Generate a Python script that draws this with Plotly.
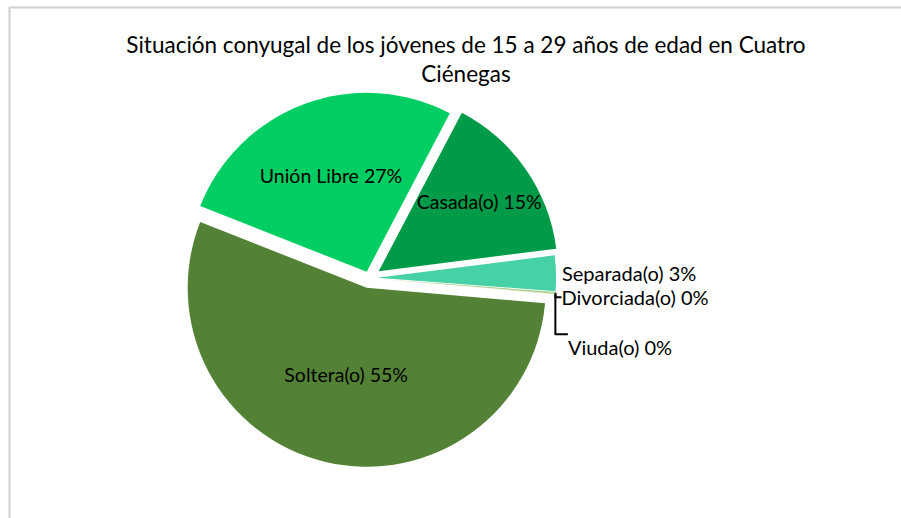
import plotly.graph_objects as go

categorias = ["Soltera(o)", "Unión Libre", "Casada(o)", "Separada(o)", "Divorciada(o)", "Viuda(o)"]
porcentajes = [54.6, 26.7, 15.3, 3.2, 0.15, 0.05]
colores = ["#538135", "#00CE63", "#009B48", "#47D1A6", "#A9D18E", "#C5E0B4"]
separacion = [0.056, 0.037, 0.066, 0.045, 0.045, 0.045]
posicion_texto = ["inside", "inside", "inside", "outside", "outside", "outside"]
plantilla = ["%{label} %{percent:.0%}"] * 5 + ["\u00a0<br>%{label} %{percent:.0%}"]

titulo = "Situación conyugal de los jóvenes de 15 a 29 años de edad en Cuatro<br>Ciénegas"

W, H = 901, 518
cx, cy, R = 369, 278, 179
half = R * (1 + max(separacion))

fig = go.Figure(go.Pie(
    labels=categorias,
    values=porcentajes,
    sort=False,
    direction="clockwise",
    rotation=95,
    pull=separacion,
    marker=dict(colors=colores, line=dict(width=0)),
    texttemplate=plantilla,
    textposition=posicion_texto,
    insidetextorientation="horizontal",
    insidetextfont=dict(color="black", size=19.5, family="Lato"),
    outsidetextfont=dict(color="black", size=20, family="Lato"),
    showlegend=False,
    hoverinfo="label+percent",
    domain=dict(x=[(cx - half) / W, (cx + half) / W],
                y=[1 - (cy + half) / H, 1 - (cy - half) / H]),
))

fig.update_layout(
    width=W, height=H,
    margin=dict(l=0, r=0, t=0, b=0),
    paper_bgcolor="white",
    font=dict(family="Lato", color="black"),
    uniformtext=dict(minsize=19.5, mode="show"),
    title=dict(text=titulo, x=466 / W, xanchor="center", y=1 - 53 / H, yanchor="top",
               font=dict(size=22.5, family="Lato", color="black")),
    shapes=[dict(type="rect", xref="paper", yref="paper",
                 x0=9.5 / W, x1=1.02, y0=-0.02, y1=1 - 7.5 / H,
                 line=dict(color="#D0D0D0", width=2), fillcolor="rgba(0,0,0,0)", layer="below")],
)

fig.write_html("out.html", config={"displayModeBar": False},
               post_script="document.body.style.margin='0px';")
